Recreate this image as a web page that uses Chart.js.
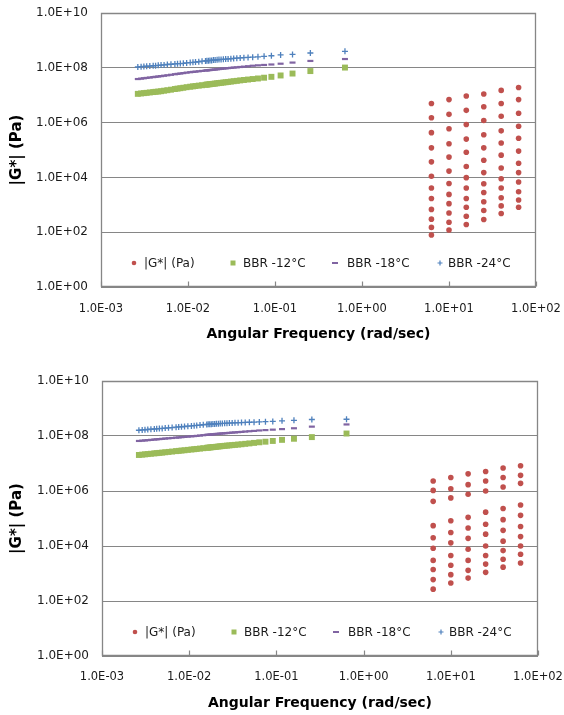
<!DOCTYPE html>
<html><head><meta charset="utf-8">
<script src="https://cdn.jsdelivr.net/npm/chart.js@4.4.1/dist/chart.umd.min.js"></script>
<style>
html,body{margin:0;padding:0;background:#fff;width:564px;height:715px;overflow:hidden;}
canvas{position:absolute;left:0;}
#c1{top:0;}
#c2{top:358px;}
</style></head><body>
<canvas id="c1" width="564" height="358"></canvas>
<canvas id="c2" width="564" height="357"></canvas>
<script>
// ---------- axis ticks and labels ----------
const xTickValues = [1e-3, 1e-2, 1e-1, 1e0, 1e1, 1e2];
const xTickLabels = ['1.0E-03', '1.0E-02', '1.0E-01', '1.0E+00', '1.0E+01', '1.0E+02'];
const yTickValues = [1e0, 1e2, 1e4, 1e6, 1e8, 1e10];
const yTickLabels = ['1.0E+00', '1.0E+02', '1.0E+04', '1.0E+06', '1.0E+08', '1.0E+10'];
const seriesLabels = ['|G*| (Pa)', 'BBR -12°C', 'BBR -18°C', 'BBR -24°C'];

// ---------- DSR frequencies (rad/s) ----------
const dsrFreq = [6.28, 10, 15.8, 25.1, 39.8, 63.1];

// ---------- BBR converted frequencies (rad/s) ----------
const bbrFreq = [0.00265,0.00289,0.00311,0.00335,0.00364,0.00398,0.00424,0.00455,0.00490,0.00531,
  0.00579,0.00637,0.00707,0.00758,0.00816,0.00884,0.00965,0.0106,0.0114,0.0122,
  0.0133,0.0145,0.0159,0.0165,0.0172,0.0179,0.0187,0.0196,0.0205,0.0216,
  0.0227,0.0240,0.0255,0.0271,0.0289,0.0311,0.0335,0.0364,0.0398,0.0439,
  0.0490,0.0554,0.0637,0.0749,0.0909,0.116,0.159,0.255,0.637];

// ---------- top chart ----------
const topDsrG = [
  [5.0e6,1.5e6,4.3e5,1.2e5,3.7e4,1.1e4,4.1e3,1.7e3,6.8e2,3.0e2,1.5e2,79],
  [6.9e6,2.0e6,6.0e5,1.7e5,5.5e4,1.7e4,6.0e3,2.4e3,1.1e3,5.0e2,2.3e2,1.2e2],
  [9.3e6,2.8e6,8.5e5,2.5e5,8.3e4,2.5e4,9.8e3,4.1e3,1.7e3,8.1e2,3.8e2,1.9e2],
  [1.1e7,3.8e6,1.2e6,3.6e5,1.2e5,4.2e4,1.5e4,5.9e3,2.8e3,1.3e3,6.2e2,2.9e2],
  [1.5e7,5.0e6,1.7e6,5.0e5,1.8e5,6.5e4,2.2e4,8.9e3,4.1e3,1.8e3,9.1e2,4.8e2],
  [1.9e7,6.9e6,2.2e6,7.4e5,2.7e5,9.1e4,3.3e4,1.5e4,6.8e3,3.0e3,1.5e3,8.1e2]
];
const topBbr12 = [1.12e7,1.16e7,1.19e7,1.22e7,1.26e7,1.30e7,1.33e7,1.36e7,1.40e7,1.46e7,
  1.52e7,1.59e7,1.68e7,1.74e7,1.80e7,1.87e7,1.96e7,2.04e7,2.10e7,2.16e7,
  2.24e7,2.31e7,2.40e7,2.44e7,2.48e7,2.52e7,2.56e7,2.61e7,2.66e7,2.72e7,
  2.77e7,2.83e7,2.90e7,2.97e7,3.05e7,3.14e7,3.24e7,3.34e7,3.47e7,3.59e7,
  3.73e7,3.89e7,4.08e7,4.35e7,4.68e7,5.25e7,6.17e7,7.59e7,1.02e8];
const topBbr18 = [3.89e7,4.03e7,4.15e7,4.27e7,4.42e7,4.57e7,4.69e7,4.82e7,4.97e7,5.14e7,
  5.33e7,5.56e7,5.82e7,6.00e7,6.19e7,6.41e7,6.67e7,6.90e7,7.08e7,7.24e7,
  7.46e7,7.69e7,7.94e7,8.05e7,8.18e7,8.30e7,8.41e7,8.55e7,8.69e7,8.85e7,
  9.02e7,9.19e7,9.38e7,9.55e7,9.77e7,9.95e7,1.02e8,1.04e8,1.07e8,1.10e8,
  1.14e8,1.19e8,1.23e8,1.27e8,1.32e8,1.41e8,1.55e8,1.78e8,2.09e8];
const topBbr24 = [1.07e8,1.10e8,1.12e8,1.14e8,1.16e8,1.19e8,1.20e8,1.23e8,1.26e8,1.27e8,
  1.32e8,1.35e8,1.38e8,1.41e8,1.43e8,1.46e8,1.51e8,1.55e8,1.58e8,1.62e8,
  1.66e8,1.74e8,1.78e8,1.80e8,1.82e8,1.86e8,1.86e8,1.91e8,1.91e8,1.95e8,
  2.00e8,2.02e8,2.04e8,2.09e8,2.11e8,2.14e8,2.19e8,2.24e8,2.29e8,2.34e8,
  2.40e8,2.45e8,2.51e8,2.63e8,2.75e8,2.95e8,3.09e8,3.47e8,3.98e8];

// ---------- bottom chart ----------
const botDsrG = [
  [2.3e6,1.05e6,4.2e5,5.5e4,2.0e4,8.3e3,3.0e3,1.4e3,6.0e2,2.7e2],
  [3.1e6,1.2e6,5.6e5,8.3e4,3.1e4,1.3e4,4.5e3,2.0e3,9.1e2,4.5e2],
  [4.2e6,1.7e6,7.6e5,1.1e5,4.5e4,1.9e4,7.6e3,3.0e3,1.3e3,6.8e2],
  [5.1e6,2.3e6,1.0e6,1.7e5,6.2e4,2.7e4,1.0e4,4.5e3,2.2e3,1.1e3],
  [6.9e6,3.1e6,1.4e6,2.3e5,9.1e4,3.7e4,1.5e4,6.8e3,3.3e3,1.7e3],
  [8.3e6,3.7e6,1.9e6,3.1e5,1.3e5,5.1e4,2.2e4,1.0e4,5.0e3,2.4e3]
];
const botBbr12 = [2.04e7,2.10e7,2.15e7,2.20e7,2.26e7,2.33e7,2.38e7,2.43e7,2.49e7,2.56e7,
  2.64e7,2.72e7,2.82e7,2.88e7,2.96e7,3.03e7,3.13e7,3.23e7,3.31e7,3.39e7,
  3.49e7,3.60e7,3.72e7,3.77e7,3.83e7,3.88e7,3.94e7,4.00e7,4.06e7,4.14e7,
  4.22e7,4.30e7,4.39e7,4.47e7,4.55e7,4.66e7,4.76e7,4.88e7,5.01e7,5.19e7,
  5.38e7,5.62e7,5.90e7,6.21e7,6.61e7,7.24e7,7.94e7,9.12e7,1.23e8];
const botBbr18 = [6.61e7,6.78e7,6.92e7,7.06e7,7.24e7,7.43e7,7.57e7,7.73e7,7.89e7,8.07e7,
  8.26e7,8.47e7,8.71e7,8.87e7,9.06e7,9.25e7,9.46e7,9.72e7,9.93e7,1.01e8,
  1.04e8,1.07e8,1.10e8,1.11e8,1.12e8,1.14e8,1.15e8,1.17e8,1.19e8,1.20e8,
  1.22e8,1.24e8,1.26e8,1.28e8,1.30e8,1.33e8,1.35e8,1.38e8,1.41e8,1.45e8,
  1.49e8,1.53e8,1.59e8,1.64e8,1.70e8,1.78e8,1.91e8,2.19e8,2.63e8];
const botBbr24 = [1.62e8,1.66e8,1.69e8,1.72e8,1.76e8,1.80e8,1.83e8,1.86e8,1.89e8,1.94e8,
  1.98e8,2.03e8,2.09e8,2.13e8,2.17e8,2.22e8,2.27e8,2.33e8,2.38e8,2.43e8,
  2.49e8,2.56e8,2.63e8,2.65e8,2.67e8,2.70e8,2.72e8,2.74e8,2.77e8,2.80e8,
  2.82e8,2.86e8,2.89e8,2.92e8,2.94e8,2.98e8,3.01e8,3.05e8,3.09e8,3.12e8,
  3.16e8,3.19e8,3.24e8,3.31e8,3.39e8,3.55e8,3.72e8,3.98e8,4.07e8];

// ---------- styling / helpers ----------
const COLORS = ['#C0504D', '#9BBB59', '#8064A2', '#4F81BD'];
const GRID = '#868686';
const FONT = '"DejaVu Sans", sans-serif';
Chart.defaults.font.family = FONT;
Chart.defaults.color = '#1a1a1a';

function dsrPoints(cols) {
  const pts = [];
  dsrFreq.forEach((f, i) => cols[i].forEach(g => pts.push({x: f, y: g})));
  return pts;
}
function bbrPoints(vals) { return bbrFreq.map((f, i) => ({x: f, y: vals[i]})); }

// plot-area frame plus inward x tick marks
const framePlugin = {
  id: 'plotFrame',
  afterDraw(chart) {
    const {ctx, chartArea: a} = chart;
    const x = chart.scales.x;
    ctx.save();
    ctx.strokeStyle = GRID;
    ctx.lineWidth = 1.3;
    const l = Math.round(a.left) + 0.5, t = Math.round(a.top) + 0.5;
    const r = Math.round(a.right) - 0.5, b = Math.round(a.bottom) - 0.5;
    ctx.beginPath();
    ctx.moveTo(l, t); ctx.lineTo(r, t); ctx.lineTo(r, b); ctx.lineTo(l, b); ctx.closePath();
    ctx.stroke();
    ctx.lineWidth = 1.2;
    x.ticks.forEach(tk => {
      const px = Math.round(x.getPixelForValue(tk.value)) + 0.5;
      ctx.beginPath(); ctx.moveTo(px, b); ctx.lineTo(px, b - 5); ctx.stroke();
    });
    ctx.restore();
  }
};

// legend drawn inside the plot area, from the datasets
const legendPlugin = {
  id: 'innerLegend',
  afterDatasetsDraw(chart) {
    const {ctx, chartArea: a} = chart;
    const y = Math.round(a.bottom - 24);
    const markX = [33, 132, 234, 339];
    const textX = [43, 142, 246, 347];
    ctx.save();
    ctx.font = '12px ' + FONT;
    ctx.textBaseline = 'middle'; ctx.textAlign = 'left';
    chart.data.datasets.forEach((ds, i) => {
      const mx = a.left + markX[i];
      ctx.fillStyle = ds.backgroundColor; ctx.strokeStyle = ds.borderColor;
      if (ds.pointStyle === 'circle') {
        ctx.beginPath(); ctx.arc(mx, y, 2.3, 0, Math.PI * 2); ctx.fill();
      } else if (ds.pointStyle === 'rect') {
        ctx.fillRect(mx - 2.5, y - 2.5, 5, 5);
      } else if (ds.pointStyle === 'line') {
        ctx.lineWidth = 2; ctx.beginPath(); ctx.moveTo(mx - 3, y); ctx.lineTo(mx + 3, y); ctx.stroke();
      } else {
        ctx.lineWidth = 1.2; ctx.beginPath();
        ctx.moveTo(mx - 2.5, y); ctx.lineTo(mx + 2.5, y);
        ctx.moveTo(mx, y - 2.5); ctx.lineTo(mx, y + 2.5); ctx.stroke();
      }
      ctx.fillStyle = '#1a1a1a';
      ctx.fillText(ds.label, a.left + textX[i], y + 0.5);
    });
    ctx.restore();
  }
};

function makeChart(id, g, dsr, b12, b18, b24) {
  return new Chart(document.getElementById(id), {
    type: 'scatter',
    data: {
      datasets: [
        {label: seriesLabels[0], data: dsrPoints(dsr), pointStyle: 'circle', pointRadius: 2.8,
         backgroundColor: COLORS[0], borderColor: COLORS[0], borderWidth: 0},
        {label: seriesLabels[1], data: bbrPoints(b12), pointStyle: 'rect', pointRadius: 4.2,
         backgroundColor: COLORS[1], borderColor: COLORS[1], borderWidth: 0},
        {label: seriesLabels[2], data: bbrPoints(b18), pointStyle: 'line', pointRadius: 3,
         backgroundColor: COLORS[2], borderColor: COLORS[2], borderWidth: 2.2},
        {label: seriesLabels[3], data: bbrPoints(b24), pointStyle: 'cross', pointRadius: 3,
         backgroundColor: COLORS[3], borderColor: COLORS[3], borderWidth: 1.3}
      ]
    },
    options: {
      responsive: false, animation: false, devicePixelRatio: 1,
      layout: {padding: {top: g.top, right: g.right, left: 0, bottom: 0}},
      plugins: {legend: {display: false}, tooltip: {enabled: false}},
      scales: {
        x: {
          type: 'logarithmic', min: 1e-3, max: 1e2,
          afterBuildTicks: s => { s.ticks = xTickValues.map(v => ({value: v})); },
          afterFit: s => { s.height = g.xh; },
          grid: {display: true, color: 'rgba(0,0,0,0)', drawTicks: true, tickLength: g.xpad, tickColor: 'rgba(0,0,0,0)'},
          border: {display: false},
          ticks: {autoSkip: false, maxRotation: 0, padding: 0, font: {size: 11.5},
                  callback: v => xTickLabels[xTickValues.indexOf(v)]},
          title: {display: true, text: 'Angular Frequency (rad/sec)', font: {size: 14, weight: 'bold'},
                  color: '#000', padding: {top: 0, bottom: g.xtpad}}
        },
        y: {
          type: 'logarithmic', min: 1e0, max: 1e10,
          afterBuildTicks: s => { s.ticks = yTickValues.map(v => ({value: v})); },
          afterFit: s => { s.width = g.yw; },
          grid: {color: GRID, lineWidth: 1, drawTicks: true, tickLength: 13, tickColor: 'rgba(0,0,0,0)'},
          border: {display: false},
          ticks: {autoSkip: false, padding: 0, font: {size: 12},
                  callback: v => yTickLabels[yTickValues.indexOf(v)]},
          title: {display: true, text: '|G*| (Pa)', font: {size: 15, weight: 'bold'},
                  color: '#000', padding: {top: 8, bottom: 0}}
        }
      }
    },
    plugins: [framePlugin, legendPlugin]
  });
}

makeChart('c1', {top: 13, right: 28, xh: 71, yw: 101, xpad: 15, xtpad: 15.6},
          topDsrG, topBbr12, topBbr18, topBbr24);
makeChart('c2', {top: 23, right: 26, xh: 59, yw: 102, xpad: 14, xtpad: 3.6},
          botDsrG, botBbr12, botBbr18, botBbr24);
</script>
</body></html>
